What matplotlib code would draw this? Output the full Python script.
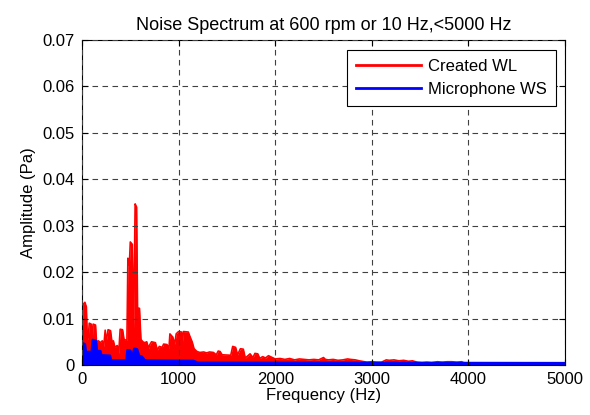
import matplotlib
matplotlib.use("Agg")
import matplotlib.pyplot as plt
from matplotlib.ticker import FixedLocator, FuncFormatter

plt.rcParams['font.family'] = ['Liberation Sans', 'DejaVu Sans']

# Envelope of the "Created WL" spectrum (Hz, Pa)
red_freq = [0, 10, 30, 45, 55, 65, 75, 95, 105, 115, 140, 150, 170, 190, 210, 225,
            240, 250, 270, 295, 310, 325, 340, 365, 380, 395, 420, 435, 465, 475,
            490, 500, 520, 535, 550, 565, 575, 595, 610, 630, 650, 670, 690, 700,
            720, 760, 780, 800, 830, 845, 880, 900, 910, 940, 960, 975, 1000, 1030,
            1040, 1050, 1100, 1120, 1140, 1160, 1190, 1220, 1260, 1290, 1320, 1360,
            1390, 1410, 1430, 1450, 1540, 1560, 1590, 1610, 1640, 1670, 1690, 1740,
            1770, 1790, 1820, 1840, 1870, 1900, 1930, 1960, 2000, 2050, 2100, 2150,
            2200, 2250, 2300, 2350, 2400, 2450, 2500, 2520, 2550, 2600, 2650, 2700,
            2750, 2780, 2830, 2870, 2950, 3000, 3050, 3100, 3150, 3180, 3230, 3280,
            3330, 3380, 3420, 3470, 3520, 3570, 3620, 3680, 3730, 3780, 3830, 3880,
            3930, 3950, 4000, 4500, 5000]
red_amp = [0.002, 0.013, 0.0135, 0.0125, 0.0054, 0.006, 0.009, 0.0088, 0.005, 0.0088,
           0.0086, 0.005, 0.0052, 0.0048, 0.0052, 0.004, 0.0075, 0.005, 0.0076, 0.0074,
           0.005, 0.0052, 0.0038, 0.0042, 0.0025, 0.0077, 0.0076, 0.0055, 0.0053, 0.023,
           0.0215, 0.0265, 0.026, 0.008, 0.0347, 0.034, 0.0123, 0.0122, 0.0055, 0.005,
           0.0048, 0.005, 0.0035, 0.0043, 0.005, 0.0048, 0.0032, 0.004, 0.0038, 0.0045,
           0.0044, 0.0035, 0.0067, 0.006, 0.0045, 0.0067, 0.0072, 0.0071, 0.005, 0.0072,
           0.0071, 0.006, 0.005, 0.0035, 0.0029, 0.0027, 0.0028, 0.0026, 0.0028, 0.0027,
           0.0022, 0.003, 0.0029, 0.0022, 0.0021, 0.004, 0.0038, 0.0022, 0.0035, 0.0034,
           0.0015, 0.0024, 0.0016, 0.0025, 0.0024, 0.0014, 0.0018, 0.0015, 0.0020, 0.0017,
           0.0013, 0.0014, 0.0012, 0.0014, 0.0011, 0.0013, 0.0012, 0.0011, 0.0012, 0.0011,
           0.0016, 0.0012, 0.0011, 0.0012, 0.0010, 0.0011, 0.0013, 0.0012, 0.0011, 0.0009,
           0.0006, 0.0007, 0.0006, 0.0006, 0.0011, 0.0010, 0.0011, 0.0009, 0.0010, 0.0008,
           0.0009, 0.0006, 0.0005, 0.0006, 0.0005, 0.0007, 0.0006, 0.0007, 0.0007, 0.0006,
           0.0007, 0.0005, 0.0004, 0.0004, 0.0004]

# Envelope of the "Microphone WS" spectrum (Hz, Pa)
blue_freq = [0, 30, 40, 100, 110, 145, 155, 190, 200, 290, 300, 460, 470, 500, 520,
             540, 570, 590, 620, 650, 1150, 1200, 5000]
blue_amp = [0.0047, 0.0045, 0.0028, 0.0028, 0.0054, 0.0052, 0.003, 0.003, 0.0021, 0.002,
            0.001, 0.001, 0.0032, 0.0031, 0.0015, 0.0035, 0.0034, 0.002, 0.0018, 0.001,
            0.0009, 0.0005, 0.0004]

x_ticks = [0, 1000, 2000, 3000, 4000, 5000]
y_ticks = [0, 0.01, 0.02, 0.03, 0.04, 0.05, 0.06, 0.07]

FS = 12

fig = plt.figure(figsize=(5.9, 4.15), dpi=100)
ax = fig.add_axes([0.139, 0.1205, 0.8186, 0.7831])

ax.fill_between(red_freq, 0, red_amp, color='#ff0000', lw=0)
ax.plot(red_freq, red_amp, color='#ff0000', lw=1.2, label='Created WL')
ax.fill_between(blue_freq, 0, blue_amp, color='#0000ff', lw=0)
ax.plot(blue_freq, blue_amp, color='#0000ff', lw=1.8, label='Microphone WS')

ax.set_xlim(0, 5000)
ax.set_ylim(0, 0.07)
ax.xaxis.set_major_locator(FixedLocator(x_ticks))
ax.yaxis.set_major_locator(FixedLocator(y_ticks))
ax.yaxis.set_major_formatter(FuncFormatter(lambda v, p: '0' if v == 0 else f'{v:.2f}'))
ax.xaxis.set_major_formatter(FuncFormatter(lambda v, p: f'{int(v)}'))
ax.tick_params(direction='in', top=True, right=True, length=4, width=0.8,
               labelsize=FS, colors='black')
ax.tick_params(axis='y', pad=5)
ax.tick_params(axis='x', pad=5)
ax.grid(True, color='0.25', linestyle=(0, (5, 4)), lw=0.8)
ax.set_axisbelow(False)
for s in ax.spines.values():
    s.set_linewidth(0.8)
    s.set_color('black')

ax.set_xlabel('Frequency (Hz)', fontsize=FS, labelpad=1)
ax.set_ylabel('Amplitude (Pa)', fontsize=FS, labelpad=5)
ax.set_title('Noise Spectrum at 600 rpm or 10 Hz,<5000 Hz', fontsize=13, pad=7)

leg = ax.legend(loc='upper right', fontsize=FS, handlelength=3.9, fancybox=False,
                framealpha=1, edgecolor='black', borderpad=0.55, labelspacing=0.45,
                handletextpad=0.45, borderaxespad=0,
                bbox_to_anchor=(0.982, 0.969))
leg.get_frame().set_linewidth(0.8)
for l in leg.get_lines():
    l.set_linewidth(2)

fig.savefig('out.png', dpi=100)
